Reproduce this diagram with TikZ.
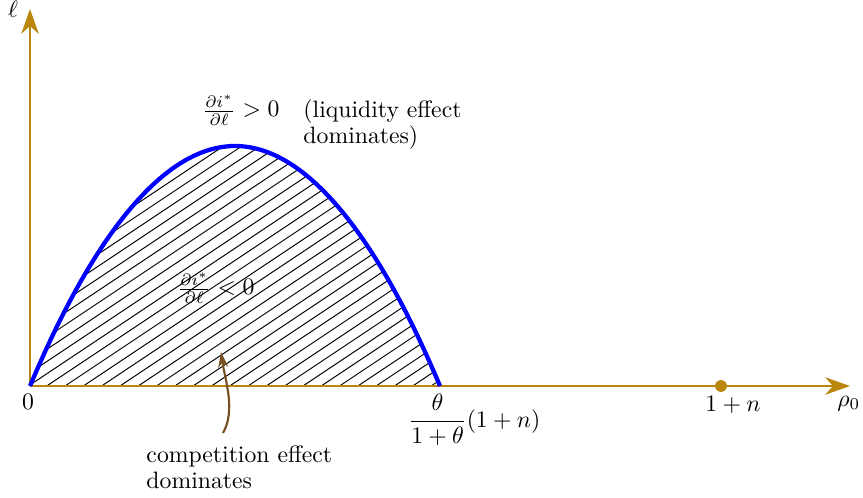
\documentclass[tikz,border=0pt]{standalone}
\usepackage{amsmath}
\usetikzlibrary{arrows.meta}
\definecolor{axiscol}{RGB}{186,134,12}
\definecolor{pointcol}{RGB}{118,80,34}
\tikzset{
  axisline/.style={draw=axiscol, line width=0.6pt, -{Stealth[length=10.5pt,width=7.4pt,inset=3.3pt]}},
  curveline/.style={draw=blue, line width=1.8pt},
  hatchline/.style={draw=black, line width=0.4pt},
  lbl/.style={inner sep=0pt, font=\fontsize{10}{11}\selectfont},
  pointer/.style={draw=pointcol, line width=0.9pt, -{Stealth[length=6.5pt,width=4.2pt]}},
}
\begin{document}
\begin{tikzpicture}[x=0.4219pt, y=-0.4219pt]
\useasboundingbox (0,0) rectangle (863,498);
% hatching
\begin{scope}
  \clip (30,386) parabola bend (235,146) (440,386) -- cycle;
  \foreach \k in {-12,...,24} {
    \draw[hatchline] ({46.7+18.3*\k},386) -- ++(660,-440);
  }
\end{scope}
% axes
\coordinate (O) at (30,386);
\coordinate (xend) at (850,386);
\coordinate (yend) at (30,9);
\draw[axisline] (O) -- (xend);
\draw[axisline] (O) -- (yend);
% curve
\draw[curveline] (30,386) parabola bend (235,146) (440,386);
% point 1+n
\fill[axiscol] (721,386) circle (2.5pt);
% labels
\node[lbl, anchor=base] (ell) at (13,18) {$\ell$};
\node[lbl, anchor=base] (zero) at (28,410) {$0$};
\node[lbl, anchor=base west] (rho) at (837,406) {$\rho_0$};
\node[lbl, anchor=base] (onen) at (733,411) {$1+n$};
\node[lbl, anchor=base west] (frac) at (408,427) {$\dfrac{\theta}{1+\theta}(1+n)$};
\node[lbl, anchor=base west] (pos) at (202,117) {$\frac{\partial i^*}{\partial \ell} > 0$};
\node[lbl, anchor=north west, align=left] (liq) at (303,99) {(liquidity effect\\dominates)};
\node[lbl, anchor=base west] (neg) at (177,295) {$\frac{\partial i^*}{\partial \ell} < 0$};
\node[lbl, anchor=north west, align=left] (comp) at (146,445) {competition effect\\dominates};
% pointer
\coordinate (ps) at (223,433);
\coordinate (pe) at (221,352);
\draw[pointer] (ps) .. controls (236,410) and (225,380) .. (pe);
\end{tikzpicture}
\end{document}
